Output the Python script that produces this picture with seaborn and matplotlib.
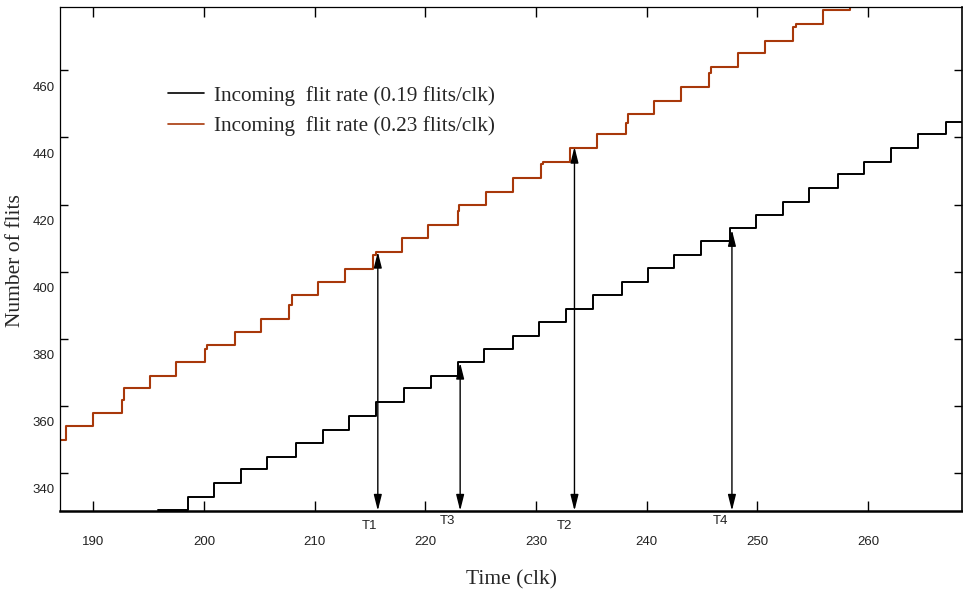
import numpy as np
import pandas as pd
import matplotlib
matplotlib.use("Agg")
import matplotlib.pyplot as plt
import matplotlib.transforms as mtransforms
import seaborn as sns

# ---------------- data ----------------
series_labels = ["Incoming  flit rate (0.19 flits/clk)",
                 "Incoming  flit rate (0.23 flits/clk)"]

black_time = [195.88, 198.59, 200.94, 203.32, 205.67, 208.32, 210.74, 213.13,
              215.55, 218.08, 220.50, 222.99, 225.32, 227.96, 230.31, 232.73,
              235.11, 237.76, 240.08, 242.49, 244.90, 247.55, 249.90, 252.32,
              254.69, 257.29, 259.66, 262.08, 264.48, 267.08, 268.52]
black_flits = [328.9, 332.8, 337.0, 341.0, 344.8, 348.9, 352.9, 356.9,
               361.0, 365.2, 368.8, 373.0, 376.8, 380.9, 385.0, 388.8,
               393.0, 397.0, 401.0, 404.9, 409.2, 412.9, 416.8, 420.8,
               425.0, 429.1, 432.7, 437.0, 441.0, 444.7, 444.7]

red_time = [186.99, 187.51, 189.95, 192.57, 192.73, 195.13, 197.48, 200.10,
            200.30, 202.81, 205.16, 207.66, 207.96, 210.34, 212.75, 215.31,
            215.53, 217.88, 220.28, 222.94, 223.06, 225.47, 227.96, 230.50,
            230.68, 233.09, 235.50, 238.15, 238.30, 240.68, 243.10, 245.68,
            245.84, 248.25, 250.72, 253.27, 253.52, 255.93, 258.34]
red_flits = [349.75, 354.0, 357.9, 361.7, 365.2, 368.8, 373.0, 376.8,
             378.0, 381.9, 385.9, 390.0, 392.9, 397.0, 400.9, 404.9,
             405.9, 410.1, 413.9, 418.1, 419.8, 423.8, 428.0, 432.1,
             432.7, 436.9, 441.0, 444.2, 447.1, 450.9, 454.9, 459.1,
             461.1, 465.2, 468.8, 473.0, 473.8, 478.0, 482.0]

marker_names = ["T1", "T3", "T2", "T4"]
marker_time = [215.71, 223.15, 233.48, 247.71]
marker_top = [405.9, 372.8, 437.2, 412.4]
marker_label_x = [215.0, 222.03, 232.56, 246.65]

x_ticks = [190, 200, 210, 220, 230, 240, 250, 260]
y_ticks = [340, 360, 380, 400, 420, 440, 460]

x_lim = (186.99, 268.5)
y_lim = (328.7, 478.9)

# ---------------- style ----------------
sns.set_style("white")
plt.rcParams["font.family"] = ["Liberation Sans", "DejaVu Sans"]
serif = ["Liberation Serif", "DejaVu Serif"]
red_color = "#A8380A"

W, H = 963, 589
fig = plt.figure(figsize=(W / 100, H / 100), dpi=100)
ax = fig.add_axes([60 / W, (H - 510.7) / H, (962 - 60) / W, (510.7 - 7) / H])

df_black = pd.DataFrame({"Time": black_time, "Flits": black_flits})
df_red = pd.DataFrame({"Time": red_time, "Flits": red_flits})

sns.lineplot(data=df_black, x="Time", y="Flits", ax=ax, estimator=None,
             sort=False, drawstyle="steps-post", color="black", lw=1.4,
             label=series_labels[0])
sns.lineplot(data=df_red, x="Time", y="Flits", ax=ax, estimator=None,
             sort=False, drawstyle="steps-post", color=red_color, lw=1.5,
             label=series_labels[1])

ax.set_xlim(*x_lim)
ax.set_ylim(*y_lim)

# arrows
for name, t, top in zip(marker_names, marker_time, marker_top):
    ax.annotate("", xy=(t, top), xytext=(t, y_lim[0]),
                arrowprops=dict(arrowstyle="<|-|>,head_length=0.8,head_width=0.2",
                                color="black", lw=1.0, shrinkA=0, shrinkB=0,
                                mutation_scale=12))
trans = mtransforms.blended_transform_factory(ax.transData, ax.transAxes)
label_y = {"T1": -0.030, "T3": -0.021, "T2": -0.030, "T4": -0.021}
for name, lx in zip(marker_names, marker_label_x):
    ax.text(lx, label_y[name], name, transform=trans, ha="center", va="center",
            fontsize=9.5, color="#222222")

# ticks
ax.set_xticks(x_ticks)
ax.set_yticks(y_ticks)
ax.tick_params(axis="x", direction="in", length=7.5, width=1.0, top=True,
               bottom=True, labelsize=9.5, pad=18, colors="black",
               labelcolor="#222222")
ax.tick_params(axis="y", direction="in", length=6, width=1.0, left=True,
               right=True, labelsize=9.5, pad=4, colors="black",
               labelcolor="#222222")
offset = mtransforms.ScaledTranslation(0, -0.16, fig.dpi_scale_trans)
for lab in ax.get_yticklabels():
    lab.set_transform(lab.get_transform() + offset)

for side, lw in [("left", 0.9), ("top", 0.9), ("right", 1.2), ("bottom", 1.8)]:
    ax.spines[side].set_visible(True)
    ax.spines[side].set_color("black")
    ax.spines[side].set_linewidth(lw)

ax.set_xlabel("Time (clk)", family=serif, fontsize=15.5, labelpad=16)
ax.set_ylabel("Number of flits", family=serif, fontsize=15.5)
ax.yaxis.set_label_coords(-0.0385, 0.496)

leg = ax.legend(loc="upper left", bbox_to_anchor=(108 / 902, 1 - 79 / 503.7),
                frameon=False, prop={"family": serif, "size": 15.3},
                handlelength=1.68, handletextpad=0.5, labelspacing=0.5,
                borderpad=0, borderaxespad=0)
for line in leg.get_lines():
    line.set_linewidth(1.2)

fig.savefig("out.png", dpi=100)
